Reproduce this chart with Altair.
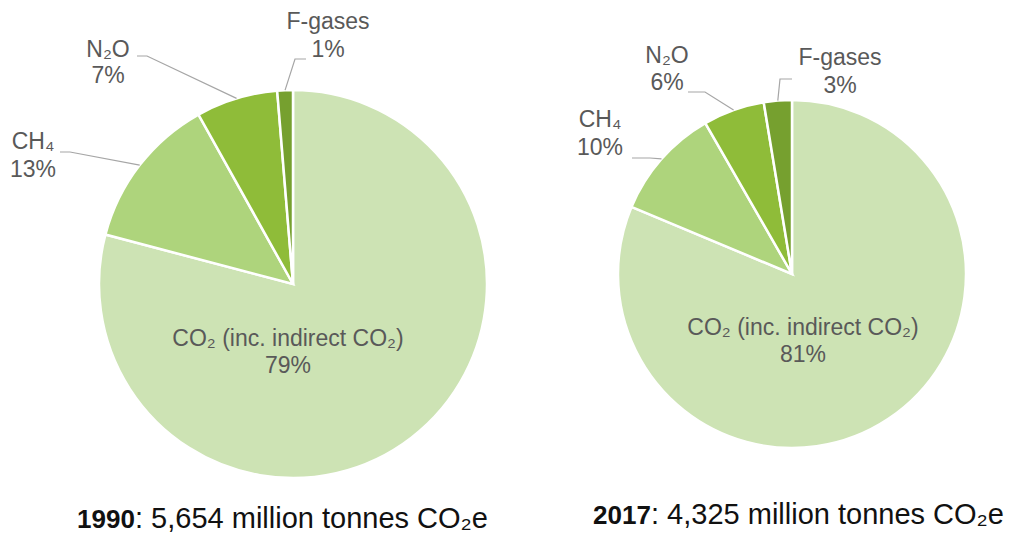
import math
import altair as alt
import pandas as pd

# ---------------- data ----------------
years = ["1990", "2017"]
totals = ["5,654", "4,325"]
gases = ["CO₂ (inc. indirect CO₂)", "CH₄", "N₂O", "F-gases"]
share_1990 = [79.1, 12.8, 6.8, 1.3]
share_2017 = [81.3, 10.4, 5.7, 2.6]
colors = ["#cde3b4", "#aed47c", "#8fbc39", "#76a02f"]

# ---------------- layout (page pixels) ----------------
W, H, OFF = 1005, 526, 8
pie_layout = {"1990": (293, 284, 194), "2017": (792, 274, 174)}  # cx, cy, radius
# label centre x, baseline of name line, baseline of percent line
label_layout = {
    ("1990", gases[0]): (288, 346, 373),
    ("1990", gases[1]): (33, 149, 177),
    ("1990", gases[2]): (108, 57, 83),
    ("1990", gases[3]): (328, 29, 57),
    ("2017", gases[0]): (803, 335, 362),
    ("2017", gases[1]): (600, 127, 155),
    ("2017", gases[2]): (667, 63, 90),
    ("2017", gases[3]): (840, 65, 93),
}
# leader line: start near label, elbow; end is computed on the slice
leader_layout = {
    ("1990", gases[1]): [(60, 152), (70, 152)],
    ("1990", gases[2]): [(137, 56), (147, 56)],
    ("1990", gases[3]): [(306, 59), (295, 59)],
    ("2017", gases[1]): [(632, 158), (650, 158)],
    ("2017", gases[2]): [(688, 92), (705, 92)],
    ("2017", gases[3]): [(792, 79), (780, 79)],
}
BOLD_SIZE, REST_SIZE = 26, 29
BOLD_W = 58  # rendered width of the bold year
title_layout = {"1990": (77, 528), "2017": (593, 524)}  # bold x, baseline

# ---------------- tables ----------------
slice_rows, label_rows, leader_rows = [], [], []
for year, shares in zip(years, [share_1990, share_2017]):
    cx, cy, r = pie_layout[year]
    cum = 0.0
    for gas, s in zip(gases, shares):
        start, end = cum, cum + s
        cum = end
        slice_rows.append(dict(year=year, gas=gas, share=s, start=start, end=end, cx=cx, cy=cy, r=r))
        lx, ly1, ly2 = label_layout[(year, gas)]
        label_rows.append(dict(year=year, gas=gas, text=gas, x=lx, y=ly1))
        label_rows.append(dict(year=year, gas=gas, text=f"{round(s)}%", x=lx, y=ly2))
        if (year, gas) in leader_layout:
            mid = (start + end) / 2 / 100 * 2 * math.pi
            pts = leader_layout[(year, gas)] + [(cx + r * math.sin(mid), cy - r * math.cos(mid))]
            for i, (px, py) in enumerate(pts):
                leader_rows.append(dict(id=f"{year}-{gas}", order=i, x=px, y=py))

slices = pd.DataFrame(slice_rows)
labels = pd.DataFrame(label_rows)
leaders = pd.DataFrame(leader_rows)
titles = pd.DataFrame([
    dict(bold=y, rest=f": {t} million tonnes CO₂e",
         bx=title_layout[y][0], rx=title_layout[y][0] + BOLD_W, y=title_layout[y][1])
    for y, t in zip(years, totals)
])

xsc = alt.Scale(domain=[OFF, OFF + W], range=[0, W])
ysc = alt.Scale(domain=[OFF, OFF + H], range=[0, H])
FONT = "Liberation Sans, Arial, sans-serif"

pies = alt.Chart(slices).mark_arc(stroke="white", strokeWidth=2.5).encode(
    x=alt.X("cx:Q", scale=xsc, axis=None),
    y=alt.Y("cy:Q", scale=ysc, axis=None),
    theta=alt.Theta("start:Q", stack=None, scale=alt.Scale(domain=[0, 100], range=[0, 2 * math.pi])),
    theta2="end:Q",
    radius=alt.Radius("r:Q", scale=None),
    color=alt.Color("gas:N", scale=alt.Scale(domain=gases, range=colors), legend=None),
)

lines = alt.Chart(leaders).mark_line(color="#a6a6a6", strokeWidth=1.2).encode(
    x=alt.X("x:Q", scale=xsc, axis=None),
    y=alt.Y("y:Q", scale=ysc, axis=None),
    detail="id:N",
    order="order:Q",
)

text = alt.Chart(labels).mark_text(
    font=FONT, fontSize=23, color="#595959", align="center", baseline="alphabetic"
).encode(
    x=alt.X("x:Q", scale=xsc, axis=None),
    y=alt.Y("y:Q", scale=ysc, axis=None),
    text="text:N",
)

tbold = alt.Chart(titles).mark_text(
    font=FONT, fontSize=BOLD_SIZE, fontWeight="bold", color="#111111", align="left", baseline="alphabetic"
).encode(
    x=alt.X("bx:Q", scale=xsc, axis=None),
    y=alt.Y("y:Q", scale=ysc, axis=None),
    text="bold:N",
)
trest = alt.Chart(titles).mark_text(
    font=FONT, fontSize=REST_SIZE, color="#111111", align="left", baseline="alphabetic"
).encode(
    x=alt.X("rx:Q", scale=xsc, axis=None),
    y=alt.Y("y:Q", scale=ysc, axis=None),
    text="rest:N",
)

chart = alt.layer(pies, lines, text, tbold, trest).properties(
    width=W, height=H, padding=0, autosize=alt.AutoSizeParams(type="none"), background="white"
).configure_view(stroke=None)

chart.save("out.html", embed_options={"renderer": "svg", "actions": False})
